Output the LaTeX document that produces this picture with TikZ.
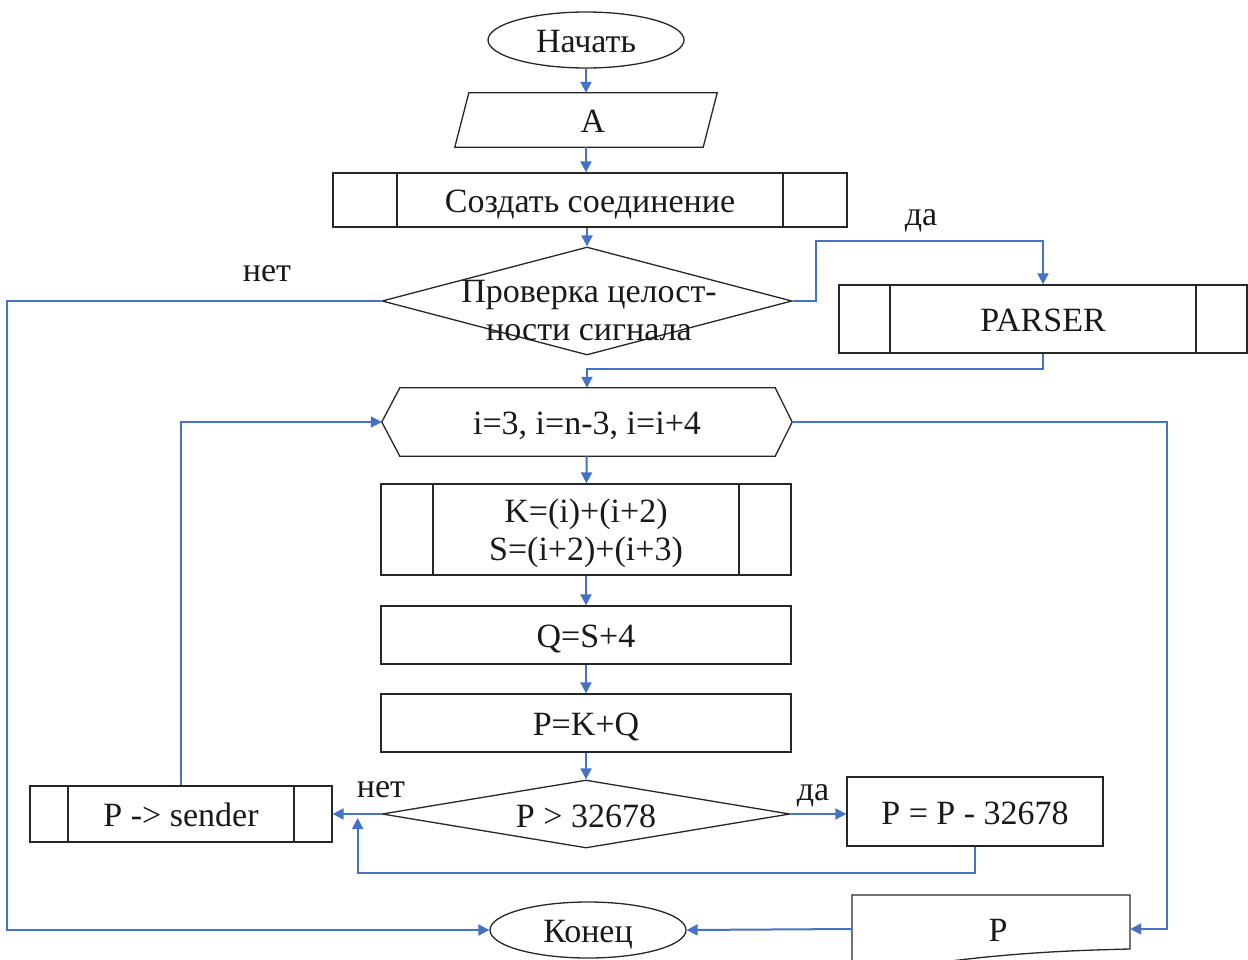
\documentclass[tikz,border=0pt]{standalone}
\usepackage{fontspec}
\setmainfont{Liberation Serif}
\usetikzlibrary{shapes.geometric,arrows.meta}
\definecolor{lnblue}{HTML}{4472C4}
\begin{document}
\begin{tikzpicture}[x=1pt,y=-1pt,
  every node/.style={font=\fontsize{34}{38}\selectfont, inner sep=0pt, text=black!90, text height=32pt, text depth=7pt},
  multi/.style={text height={}, text depth={}},
  shp/.style={draw=black!85, line width=1.3pt},
  box/.style={shp, rectangle},
  sub/.style={box, path picture={
      \draw[line width=1.3pt, draw=black!85] ([xshift=#1]path picture bounding box.north west) -- ([xshift=#1]path picture bounding box.south west);
      \draw[line width=1.3pt, draw=black!85] ([xshift=-#1]path picture bounding box.north east) -- ([xshift=-#1]path picture bounding box.south east);}},
  term/.style={shp, ellipse, minimum width=196, minimum height=56},
  dec/.style={shp, diamond},
  lbl/.style={font=\fontsize{34}{38}\selectfont},
  arr/.style={draw=lnblue, line width=2pt, -{Triangle[length=11pt,width=11pt]}},
]
\useasboundingbox (0,0) rectangle (1248,959);

% nodes
\node[term] (start) at (586,40) {Начать};
\node[minimum width=248, minimum height=54] (A) at (586,120) {\hspace*{14pt}A};
\draw[shp] ([xshift=-7pt]A.south west) -- ([xshift=7pt]A.north west) -- ([xshift=7pt]A.north east) -- ([xshift=-7pt]A.south east) -- cycle;
\node[sub=64pt, minimum width=514, minimum height=54] (conn) at (590,200) {Создать соединение};
\node[dec, minimum width=410, minimum height=108] (d1) at (587,301) {};
\node[multi, align=center] (d1t) at (589,311) {Проверка целост-\\ности сигнала};
\node[sub=51pt, minimum width=408, minimum height=68] (parser) at (1043,319) {PARSER};
\node[minimum width=410, minimum height=68] (hex) at (587,422) {i=3, i=n-3, i=i+4};
\draw[shp] (hex.west) -- ([xshift=18pt]hex.north west) -- ([xshift=-17pt]hex.north east) -- (hex.east) -- ([xshift=-17pt]hex.south east) -- ([xshift=18pt]hex.south west) -- cycle;
\node[sub=52pt, multi, minimum width=410, minimum height=91] (kbox) at (586,529.5) {\raisebox{-4pt}[\height][\depth]{\begin{tabular}{@{}c@{}}K=(i)+(i+2)\\S=(i+2)+(i+3)\end{tabular}}};
\node[box, minimum width=410, minimum height=58] (q) at (586,635) {Q=S+4};
\node[box, minimum width=410, minimum height=58] (p) at (586,723) {P=K+Q};
\node[dec, minimum width=408, minimum height=68] (d2) at (586,814) {};
\node (d2t) at (586,815) {P > 32678};
\node[box, minimum width=256, minimum height=69] (sub) at (975,811.5) {P = P - 32678};
\node[sub=38pt, minimum width=302, minimum height=56] (send) at (181,814) {P -> sender};
\node[term] (end) at (588,930) {Конец};
\node[minimum width=278, minimum height=68] (pdoc) at (991,929) {\hspace*{14pt}P};
\draw[shp] (852,975) -- (852,895) -- (1130,895) -- (1130,949) .. controls (1040,951) and (980,956) .. (900,968);

% labels
\node[lbl] (yes1) at (921,212.5) {да};
\node[lbl] (no1) at (267,268.5) {нет};
\node[lbl] (no2) at (381,784.5) {нет};
\node[lbl] (yes2) at (813,787.5) {да};

% connectors
\draw[arr] (start) -- (A);
\draw[arr] (A.south) -- (A.south |- conn.north);
\draw[arr] (conn.south -| d1.north) -- (d1.north);
\draw[arr] (d1.east) -- ++(23,0) |- ([yshift=43pt]parser.north) -- (parser.north);
\draw[arr] (parser.south) -- ++(0,15) -| (hex.north);
\draw[arr] (d1.west) -- ++(-374,0) |- (end.west);
\draw[arr] (hex) -- (kbox);
\draw[arr] (kbox) -- (q);
\draw[arr] (q) -- (p);
\draw[arr] (p) -- (d2);
\draw[arr] (d2.east) -- (d2.east -| sub.west);
\draw[arr] (d2.west) -- (send.east);
\draw[arr] (sub.south) -- ++(0,26) -| ([xshift=25pt,yshift=-4pt]send.east);
\draw[arr] (send.north) |- (hex.west);
\draw[arr] (hex.east) -- ++(375,0) |- (pdoc.east);
\draw[arr] (pdoc.west) -- (end.east);
\end{tikzpicture}
\end{document}
